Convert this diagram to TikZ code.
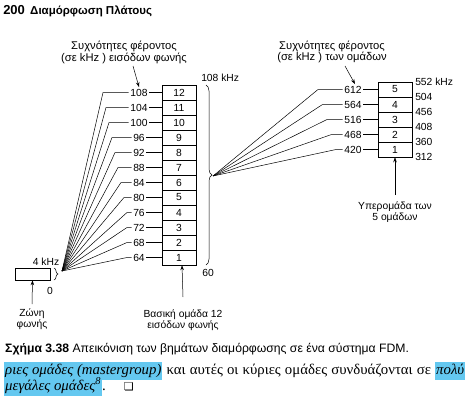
\documentclass[tikz,border=0pt]{standalone}
\usepackage{fontspec}
\setmainfont{Liberation Serif}
\setsansfont{Liberation Sans}
\newfontfamily\symfont{DejaVu Sans}
\usetikzlibrary{arrows.meta,decorations.pathreplacing}
\definecolor{marker}{RGB}{100,200,240}
\newcommand\dg{\sffamily\fontsize{10.3}{11.5}\selectfont}
\newcommand\tg{\sffamily\fontsize{11.2}{11.5}\selectfont}
\newcommand\marked[1]{{\setlength\fboxsep{1pt}\colorbox{marker}{\strut #1}}}
\tikzset{
  cell/.style={draw,minimum width=34pt,minimum height=15pt,inner sep=0pt,font=\dg},
  freq/.style={font=\dg,inner sep=1.5pt},
  lbl/.style={font=\dg,align=center,inner sep=1pt},
  ttl/.style={font=\tg,align=center,inner sep=1pt},
  pointer/.style={-{Stealth[length=5pt,width=3.5pt]}},
  brc/.style={decorate,decoration={brace,amplitude=#1}},
  brc/.default=6pt
}
\begin{document}
\begin{tikzpicture}[x=1pt,y=-1pt,line width=0.5pt]
        \useasboundingbox (0,0) rectangle (474,415);
        % Intestazione
        \node[anchor=base west,inner sep=0] (page) at (3,14.5) {\sffamily\bfseries\fontsize{13}{15}\selectfont 200};
        \node[anchor=base west,inner sep=0] (chap) at (30,14.5) {\sffamily\bfseries\fontsize{11.5}{12}\selectfont Διαμόρφωση Πλάτους};
        % Zona vocale
        \node[draw,minimum width=35pt,minimum height=12pt,inner sep=0pt] (voice) at (32.5,274) {};
        \draw[brc=4pt] (54,268) -- (54,280);
        \node[lbl] (top4) at (46,262) {4 kHz};
        \node[lbl] (zero) at (50,291) {0};
        \coordinate (fan) at (62,271);
        \coordinate (varr) at (32,304);
        \draw[pointer] (varr) -- (voice.south);
        \node[lbl] (vtext) at (32,319) {Ζώνη\\φωνής};
        % Gruppo base
        \node[ttl] (ltitle) at (124,52.5) {Συχνότητες φέροντος\\(σε kHz ) εισόδων φωνής};
        \foreach \i/\f in {1/64,2/68,3/72,4/76,5/80,6/84,7/88,8/92,9/96,10/100,11/104,12/108} {
          \pgfmathsetmacro\yc{265-15*(\i-0.5)}
          \pgfmathsetmacro\xs{min(127,103+3*(12-\i))}
          \node[cell] (b\i) at (179,\yc) {\i};
          \node[freq] (f\i) at (139,\yc) {\f};
          \coordinate (s\i) at (\xs,\yc);
          \draw (fan) -- (s\i) -- (f\i);
          \draw (f\i) -- (b\i);
        }
        \coordinate (larr) at (133,66);
        \draw[pointer] (larr) -- (f12.north);
        \draw[brc] (206,85) -- (206,265);
        \node[lbl,anchor=west] (top108) at (200,78) {108 kHz};
        \node[lbl] (bot60) at (208,273) {60};
        \coordinate (barr) at (183,297);
        \draw[pointer] (barr) -- ([xshift=3pt]b1.south);
        \node[lbl] (btext) at (183,320) {Βασική ομάδα 12\\εισόδων φωνής};
        % Supergruppo
        \coordinate (hub) at (213,176);
        \node[ttl] (rtitle) at (332,52) {Συχνότητες φέροντος\\(σε kHz ) των ομάδων};
        \foreach \i/\f in {1/420,2/468,3/516,4/564,5/612} {
          \pgfmathsetmacro\yc{157-15*(\i-0.5)}
          \pgfmathsetmacro\xs{318+4.5*(5-\i)}
          \node[cell] (r\i) at (395,\yc) {\i};
          \node[freq] (g\i) at (353,\yc) {\f};
          \coordinate (t\i) at (\xs,\yc);
          \draw (hub) -- (t\i) -- (g\i);
          \draw (g\i) -- (r\i);
        }
        \foreach \k/\f in {0/312,1/360,2/408,3/456,4/504} {
          \node[lbl,anchor=west] (e\k) at (414,157-15*\k) {\f};
        }
        \node[lbl,anchor=west] (e5) at (414,82) {552 kHz};
        \coordinate (rarr) at (345,66);
        \draw[pointer] (rarr) -- ([xshift=2pt]g5.north);
        \coordinate (sarr) at (395,195);
        \draw[pointer] (sarr) -- (r1.south);
        \node[lbl] (stext) at (395,212) {Υπερομάδα των\\5 ομάδων};
        % Didascalia
        \node[anchor=base west,inner sep=0] (cap) at (5,352) {\sffamily\fontsize{12.2}{13}\selectfont\textbf{Σχήμα 3.38} Απεικόνιση των βημάτων διαμόρφωσης σε ένα σύστημα FDM.};
        % Testo
        \node[anchor=base west,inner sep=0] (line1) at (4,374) {\fontsize{14.8}{16}\selectfont\makebox[461pt][s]{\marked{\itshape ριες ομάδες (mastergroup)} και αυτές οι κύριες ομάδες συνδυάζονται σε \marked{\itshape πολύ}}};
        \node[anchor=base west,inner sep=0] (line2) at (4,390) {\fontsize{14.8}{16}\selectfont\marked{\itshape μεγάλες ομάδες\textsuperscript{8}}.\hspace{18pt}{\symfont\fontsize{11}{12}\selectfont ❏}};
    \end{tikzpicture}
\end{document}
